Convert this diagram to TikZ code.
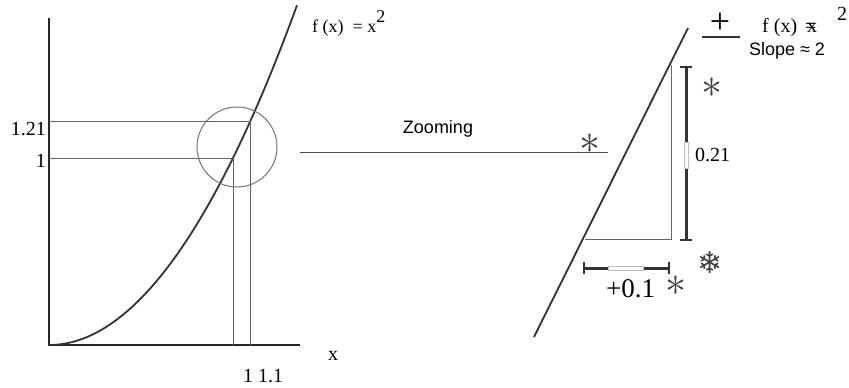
\documentclass[tikz,border=0pt]{standalone}
\usepackage{fontspec}
\setmainfont{Liberation Serif}
\setsansfont{Liberation Sans}
\newfontfamily\symfont{DejaVu Sans}
\usetikzlibrary{positioning,calc}

\newcommand{\bigast}{\scalebox{4.2}{$\ast$}}

\tikzset{
  axisline/.style={draw=black!85, line width=1.3pt},
  curveline/.style={draw=black!80, line width=1.8pt},
  guideline/.style={draw=black!60, line width=0.9pt},
  dimbar/.style={draw=black!80, line width=3pt},
  dimcap/.style={draw=black!80, line width=2pt},
  gapbox/.style={draw=black!25, fill=white, line width=0.6pt},
  lensring/.style={draw=black!55, line width=1pt, circle, minimum size=80pt, inner sep=0pt},
  lbl/.style={font=\fontsize{20}{22}\selectfont, inner sep=0pt},
  slbl/.style={font=\sffamily\fontsize{18}{20}\selectfont, inner sep=0pt},
  star/.style={inner sep=0pt, text=black!75},
}

\begin{document}
\begin{tikzpicture}[x=1pt,y=-1pt]
  \useasboundingbox (0,0) rectangle (849,388);

  % left plot
  \coordinate (origin) at (49,345);
  \coordinate (ytop) at (49,18);
  \coordinate (xend) at (300,345);
  \coordinate (p1) at (233,158);
  \coordinate (p2) at (250,121);
  \draw[axisline] (ytop) -- (origin) -- (xend);
  \draw[curveline] plot[domain=0:1.348, samples=60, smooth] ({49+184*\x},{345-187*\x*\x});
  \draw[guideline] (p1 -| origin) -- (p1) -- (p1 |- origin);
  \draw[guideline] (p2 -| origin) -- (p2) -- (p2 |- origin);
  \node[lensring] (lens) at (237,147) {};

  \node[lbl, anchor=east] (ylbl2) at (46,129) {1.21};
  \node[lbl, anchor=east] (ylbl1) at (46,161) {1};
  \node[lbl] (xlbl) at (333,356) {x};
  \node[lbl] (xticks) at (263,376) {1 1.1};
  \node[lbl, font=\fontsize{18}{20}\selectfont, anchor=base west] (fxleft) at (312,32) {f (x)\ \ = x\raisebox{10pt}{2}};

  % zooming link
  \coordinate (zoomstart) at (300,152);
  \coordinate (zoomend) at (608,152);
  \draw[guideline, draw=black!70] (zoomstart) -- (zoomend);
  \node[slbl] (zoomlbl) at (438,129) {Zooming};
  \node[star] (star1) at (590,144) {\bigast};

  % zoomed view
  \coordinate (tantop) at (688,28);
  \coordinate (tanbot) at (534,337);
  \coordinate (rise) at (671,65);
  \coordinate (corner) at (671,239);
  \coordinate (run) at (585,239);
  \draw[curveline] (tanbot) -- (tantop);
  \draw[guideline] (rise) -- (corner) -- (run);

  \coordinate (vtop) at (686,67);
  \coordinate (vgapa) at (686,142);
  \coordinate (vgapb) at (686,168);
  \coordinate (vbot) at (686,240);
  \draw[dimbar] (vtop) -- (vgapa) (vgapb) -- (vbot);
  \draw[gapbox] ($(vgapa)+(-2,0)$) rectangle ($(vgapb)+(2,0)$);
  \draw[dimcap] ($(vtop)+(-6,0)$) -- ($(vtop)+(6,0)$) ($(vbot)+(-6,0)$) -- ($(vbot)+(6,0)$);
  \node[lbl, anchor=west] (risel) at (695,155) {0.21};
  \node[star] (star2) at (712,88) {\bigast};

  \coordinate (hleft) at (584,268);
  \coordinate (hgapa) at (608,268);
  \coordinate (hgapb) at (643,268);
  \coordinate (hright) at (669,268);
  \draw[dimbar] (hleft) -- (hgapa) (hgapb) -- (hright);
  \draw[gapbox] ($(hgapa)+(0,-2)$) rectangle ($(hgapb)+(0,2)$);
  \draw[dimcap] ($(hleft)+(0,-6)$) -- ($(hleft)+(0,6)$) ($(hright)+(0,-6)$) -- ($(hright)+(0,6)$);
  \node[lbl, font=\fontsize{27}{28}\selectfont, anchor=base west] (runl) at (606,297) {+0.1};
  \node[star] (star3) at (676,286) {\bigast};
  \node[font=\symfont\fontsize{30}{30}\selectfont, inner sep=0pt, text=black!75] (flake) at (710,263) {❄};

  \node[lbl, font=\fontsize{36}{36}\selectfont] (plus) at (720,23) {+};
  \coordinate (barl) at (702,37);
  \coordinate (barr) at (740,37);
  \draw[dimcap, line width=1.6pt] (barl) -- (barr);
  \node[lbl, anchor=base west] (fxright) at (762,32) {f (x)\ \ \rlap{\kern-0.1em=}x\hspace{1em}\raisebox{12pt}{2}};
  \node[slbl] (slope) at (787,51) {Slope ≈ 2};
\end{tikzpicture}
\end{document}
